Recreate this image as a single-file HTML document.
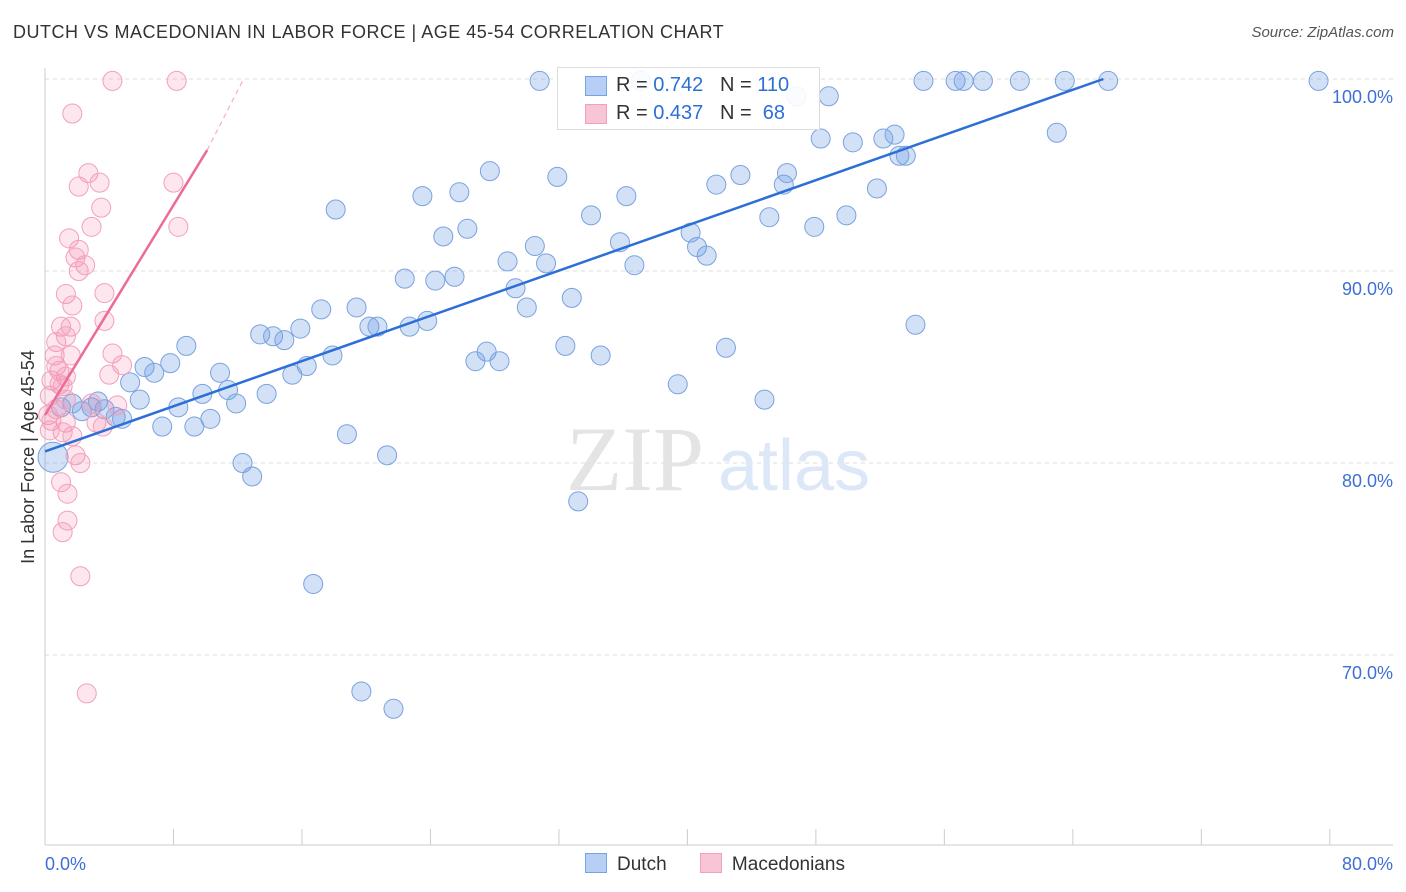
<!DOCTYPE html>
<html><head><meta charset="utf-8"><style>
body{margin:0;background:#fff;font-family:"Liberation Sans",sans-serif;}
#wrap{position:relative;width:1406px;height:892px;overflow:hidden;}
</style></head><body><div id="wrap">
<div style="position:absolute;left:13px;top:22px;font-size:18px;color:#333;letter-spacing:0.5px;">DUTCH VS MACEDONIAN IN LABOR FORCE | AGE 45-54 CORRELATION CHART</div>
<div style="position:absolute;right:12px;top:24px;font-size:15px;color:#555;font-style:italic;">Source: ZipAtlas.com</div>
<svg id="svg" width="1406" height="892" style="position:absolute;left:0;top:0"></svg>
</div>
<script>
const yTicks=[100,90,80,70];
const xTickLabels=["0.0%","80.0%"];
const dutchX=[30.8,37.1,48.8,46.8,54.7,56.7,57.2,58.4,60.7,63.5,66.2,79.3,63.0,48.3,50.3,52.2,52.9,53.2,53.6,27.7,31.9,43.3,41.8,46.0,46.2,51.8,25.8,23.5,36.2,18.1,34.0,45.1,47.9,49.9,26.3,24.8,40.2,35.8,30.5,40.6,41.2,28.8,31.2,36.7,22.4,24.3,25.5,29.3,32.8,17.2,19.4,30.0,54.2,15.9,13.4,14.2,14.9,20.2,20.7,22.7,23.8,8.8,17.9,27.5,26.8,28.3,32.4,34.6,42.4,16.3,6.2,6.8,7.8,10.9,5.3,15.4,39.4,9.8,11.4,13.8,5.9,3.3,1.7,2.9,2.3,1.0,8.3,11.9,44.8,3.7,4.4,4.8,7.3,9.3,10.3,18.8,12.3,12.9,21.3,33.2,16.7,19.7,21.7,0.5];
const dutchY=[99.9,99.9,99.1,99.1,99.9,99.9,99.9,99.9,99.9,99.9,99.9,99.9,97.2,96.9,96.7,96.9,97.1,96.0,96.0,95.2,94.9,95.0,94.5,94.5,95.1,94.3,94.1,93.9,93.9,93.2,92.9,92.8,92.3,92.9,92.2,91.8,92.0,91.5,91.3,91.25,90.8,90.5,90.4,90.3,89.6,89.5,89.7,89.1,88.6,88.0,88.1,88.1,87.2,87.0,86.7,86.6,86.4,87.1,87.1,87.1,87.4,86.1,85.6,85.8,85.3,85.3,86.1,85.6,86.0,85.05,85.0,84.7,85.2,84.7,84.2,84.6,84.1,83.6,83.8,83.6,83.3,83.2,83.1,82.9,82.7,82.9,82.9,83.1,83.3,82.8,82.4,82.3,81.9,81.9,82.3,81.5,80.0,79.3,80.4,78.0,73.7,68.1,67.2,80.3];
const macX=[4.2,8.2,1.7,2.7,3.4,2.1,8.0,3.5,2.9,8.3,1.5,2.1,1.9,2.5,2.1,1.3,3.7,1.7,3.7,1.0,1.6,1.3,0.7,4.2,0.6,1.6,4.8,0.7,0.9,1.3,4.0,0.4,0.9,1.1,0.3,4.5,2.9,1.3,0.7,0.2,0.4,3.2,3.6,1.3,1.1,1.7,0.3,1.9,2.2,1.0,1.4,1.4,1.1,2.2,2.6];
const macY=[99.9,99.9,98.2,95.1,94.6,94.4,94.6,93.3,92.3,92.3,91.7,91.1,90.7,90.3,90.0,88.8,88.85,88.2,87.4,87.1,87.1,86.6,86.3,85.7,85.6,85.6,85.1,85.05,84.8,84.5,84.6,84.3,84.1,84.0,83.5,83.0,83.1,83.3,82.8,82.5,82.2,82.1,81.9,82.1,81.6,81.4,81.7,80.4,80.0,79.0,78.4,77.0,76.4,74.1,68.0];
const dutchTrend=[[0,80.6],[65.9,100]];
const macTrend=[[0,82.5],[10.1,96.3]];
const macTrendExt=[[10.1,96.3],[12.3,99.9]];
const NS="http://www.w3.org/2000/svg";
const svg=document.getElementById('svg');
const X=v=>45+v*16.06, Y=v=>79+(100-v)*19.2;
function mk(t,a){const e=document.createElementNS(NS,t);for(const k in a)e.setAttribute(k,a[k]);svg.appendChild(e);return e;}
yTicks.forEach(t=>{
 const g=mk('line',{x1:45,x2:1393,y1:Y(t),y2:Y(t),stroke:'#ddd','stroke-dasharray':'4,4'});
 
 
 const l=mk('text',{x:1393,y:Y(t)+24,'text-anchor':'end','font-size':18,fill:'#3d6fd6','font-family':'Liberation Sans'});
 l.textContent=t.toFixed(1)+'%';
 
 
});
const ax=mk('line',{x1:45,x2:45,y1:68,y2:845,stroke:'#ccc'});


const bx=mk('line',{x1:45,x2:1393,y1:845,y2:845,stroke:'#ccc'});


for(let i=1;i<=10;i++){const t=mk('line',{x1:X(i*8),x2:X(i*8),y1:829,y2:845,stroke:'#ccc'});
 
 }
[[0,'start',45],[80,'end',1393]].forEach((d,i)=>{const l=mk('text',{x:d[2],y:870,'text-anchor':d[1],'font-size':18,fill:'#3d6fd6','font-family':'Liberation Sans'});l.textContent=xTickLabels[i];
 
 });
const yt=mk('text',{x:34,y:457,'text-anchor':'middle','font-size':18,fill:'#333',transform:'rotate(-90 34 457)','font-family':'Liberation Sans'});yt.textContent='In Labor Force | Age 45-54';


const w1=mk('text',{x:635,y:490,'text-anchor':'middle','font-size':92,fill:'#e4e4e4','font-family':'Liberation Serif'});w1.textContent='ZIP';


const w2=mk('text',{x:718,y:490,'font-size':72,fill:'#dce7f7','font-family':'Liberation Sans'});w2.textContent='atlas';


dutchX.forEach((v,i)=>{const big=i===dutchX.length-1;const c=mk('circle',{cx:X(v),cy:Y(dutchY[i]),r:big?15:9.5,fill:'rgba(110,155,230,0.3)',stroke:'#79a2e0','stroke-width':1});
 
 });
macX.forEach((v,i)=>{const c=mk('circle',{cx:X(v),cy:Y(macY[i]),r:9.5,fill:'rgba(245,140,175,0.22)',stroke:'#f2a0bd','stroke-width':1});
 
 });
const bt=mk('line',{x1:X(dutchTrend[0][0]),y1:Y(dutchTrend[0][1]),x2:X(dutchTrend[1][0]),y2:Y(dutchTrend[1][1]),stroke:'#2c6fd6','stroke-width':2.5});


const pt=mk('line',{x1:X(macTrend[0][0]),y1:Y(macTrend[0][1]),x2:X(macTrend[1][0]),y2:Y(macTrend[1][1]),stroke:'#ec6b97','stroke-width':2.5});


const pe=mk('line',{x1:X(macTrendExt[0][0]),y1:Y(macTrendExt[0][1]),x2:X(macTrendExt[1][0]),y2:Y(macTrendExt[1][1]),stroke:'#f3b0c6','stroke-width':1.2,'stroke-dasharray':'5,4'});


</script>
<div style="position:absolute;left:557px;top:67px;width:261px;height:61px;border:1px solid #ddd;background:rgba(255,255,255,0.9);font-size:20px;color:#333;">
 <div style="position:absolute;left:27px;top:8px;width:20px;height:18px;background:#b7cff4;border:1px solid #79a2e0;"></div>
 <div style="position:absolute;left:58px;top:6px;">R = <span style="color:#2c6fd6">0.742</span>&nbsp;&nbsp;&nbsp;N = <span style="color:#2c6fd6">110</span></div>
 <div style="position:absolute;left:27px;top:36px;width:20px;height:18px;background:#f8c5d6;border:1px solid #f2a0bd;"></div>
 <div style="position:absolute;left:58px;top:34px;">R = <span style="color:#2c6fd6">0.437</span>&nbsp;&nbsp;&nbsp;N = &nbsp;<span style="color:#2c6fd6">68</span></div>
</div>
<div style="position:absolute;left:585px;top:853px;font-size:19px;color:#333;">
 <span><span style="display:inline-block;width:20px;height:18px;background:#b7cff4;border:1px solid #79a2e0;vertical-align:-3px;margin-right:10px;"></span>Dutch</span>
 <span style="margin-left:28px;"><span style="display:inline-block;width:20px;height:18px;background:#f8c5d6;border:1px solid #f2a0bd;vertical-align:-3px;margin-right:10px;"></span>Macedonians</span>
</div>
</body></html>
